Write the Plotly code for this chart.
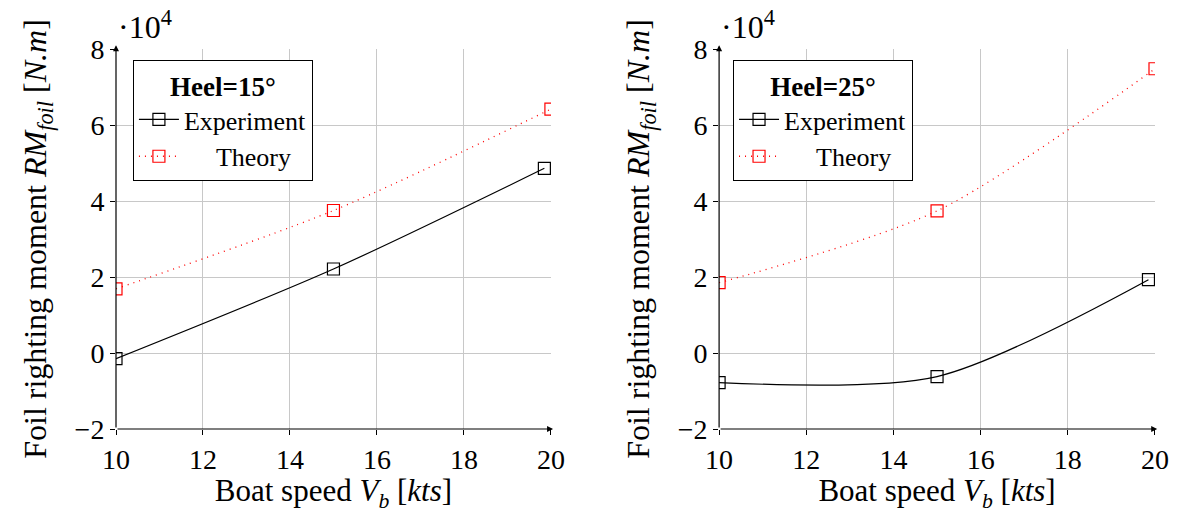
import plotly.graph_objects as go

speed_exp_15 = [10, 15, 19.85]
rm_exp_15 = [-0.15, 2.21, 4.86]
speed_th_15 = [10, 15, 20]
rm_th_15 = [1.69, 3.75, 6.42]

speed_exp_25 = [10, 15, 19.85]
rm_exp_25 = [-0.78, -0.62, 1.93]
speed_th_25 = [10, 15, 20]
rm_th_25 = [1.85, 3.74, 7.48]

heel_titles = ["Heel=15°", "Heel=25°"]
x_ticks = [10, 12, 14, 16, 18, 20]
y_ticks = [-2, 0, 2, 4, 6, 8]

FONT = "Liberation Serif, Times New Roman, serif"
fig = go.Figure()

marker_common = dict(symbol="square-open", size=12, line=dict(width=1.2))

sets = [
    (speed_exp_15, rm_exp_15, speed_th_15, rm_th_15, "x", "y", "legend"),
    (speed_exp_25, rm_exp_25, speed_th_25, rm_th_25, "x2", "y2", "legend2"),
]
for xe, ye, xt, yt, xa, ya, lg in sets:
    fig.add_trace(go.Scatter(
        x=xe, y=ye, name="Experiment", mode="lines+markers",
        line=dict(color="black", width=1.2, shape="spline", smoothing=0.8),
        marker=dict(color="black", **marker_common),
        xaxis=xa, yaxis=ya, legend=lg))
    fig.add_trace(go.Scatter(
        x=xt, y=yt, name="     Theory", mode="lines+markers",
        line=dict(color="red", width=1.3, dash="1px,5px", shape="spline", smoothing=0.8),
        marker=dict(color="red", **marker_common),
        xaxis=xa, yaxis=ya, legend=lg))

ml, mr, mt, mb = 116, 21, 49, 83
W, H = 1181, 513
pw = W - ml - mr
dom1 = [0, 437 / pw]
dom2 = [(722 - ml) / pw, 1.0]

axis_common = dict(
    showgrid=True, gridcolor="#c8c8c8", gridwidth=1, zeroline=False,
    showline=False, ticks="outside", ticklen=5, tickcolor="black",
    tickfont=dict(family=FONT, size=28, color="black"),
)
xtitle = "Boat speed <i>V</i><sub><i>b</i></sub> [<i>kts</i>]"
ytitle = "Foil righting moment <i>RM</i><sub><i>foil</i></sub> [<i>N.m</i>]"

layout = dict(
    width=W, height=H, margin=dict(l=ml, r=mr, t=mt, b=mb),
    plot_bgcolor="white", paper_bgcolor="white",
    font=dict(family=FONT, size=28, color="black"),
    showlegend=True,
)
for i, (xa, ya, dom) in enumerate([("xaxis", "yaxis", dom1), ("xaxis2", "yaxis2", dom2)]):
    layout[xa] = dict(domain=dom, range=[10, 20], tickvals=x_ticks,
                      anchor="y" if i == 0 else "y2",
                      title=dict(text=xtitle, font=dict(family=FONT, size=31), standoff=5),
                      **axis_common)
    layout[ya] = dict(range=[-2, 8], tickvals=y_ticks,
                      anchor="x" if i == 0 else "x2",
                      title=dict(text=ytitle, font=dict(family=FONT, size=32), standoff=18),
                      **axis_common)

for j, lg in enumerate(["legend", "legend2"]):
    x0 = (133 - ml) / pw if j == 0 else (736 - ml) / pw
    layout[lg] = dict(
        x=x0, y=1 - (60 - mt) / (H - mt - mb),
        xanchor="left", yanchor="top",
        bordercolor="black", borderwidth=1, bgcolor="white",
        font=dict(family=FONT, size=26, color="black"),
        title=dict(text="<b>" + heel_titles[j] + "</b>", side="top center",
                   font=dict(family=FONT, size=27)),
        tracegroupgap=0, itemwidth=40,
    )
fig.update_layout(**layout)

for xa, ya in [("x", "y"), ("x2", "y2")]:
    fig.add_annotation(x=10, y=8.1, ax=10, ay=-2, xref=xa, yref=ya, axref=xa, ayref=ya,
                       showarrow=True, arrowhead=2, arrowsize=1, arrowwidth=1.2,
                       arrowcolor="black", text="")
    fig.add_annotation(x=20.05, y=-2, ax=10, ay=-2, xref=xa, yref=ya, axref=xa, ayref=ya,
                       showarrow=True, arrowhead=2, arrowsize=1, arrowwidth=1.2,
                       arrowcolor="black", text="")
    fig.add_annotation(x=10, y=8, xref=xa, yref=ya, xanchor="left", yanchor="bottom",
                       yshift=2, xshift=0, showarrow=False,
                       text="·10<sup>4</sup>", font=dict(family=FONT, size=32))

fig.write_html("out.html")
